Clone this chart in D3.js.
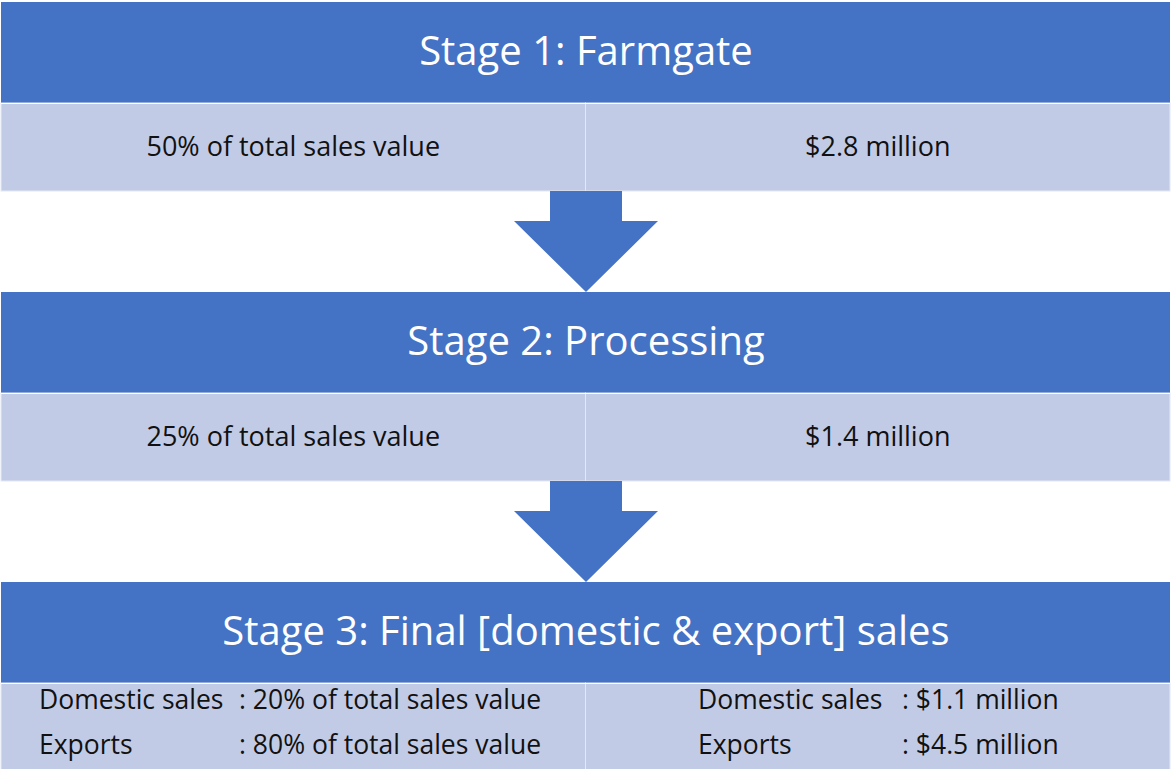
<!DOCTYPE html>
<html>
<head>
<meta charset="utf-8">
<script src="https://cdn.jsdelivr.net/npm/d3@7"></script>
<style>
    html, body { margin: 0; padding: 0; background: #ffffff; }
    svg { display: block; font-family: "Open Sans", "Noto Sans", sans-serif; }
</style>
</head>
<body>
<svg id="flowSvg" width="1172" height="769"></svg>
<script>
// stage titles and the values shown beneath each one
const stages = ["Stage 1: Farmgate", "Stage 2: Processing", "Stage 3: Final [domestic & export] sales"];
const shareLabels = [
    ["50% of total sales value"],
    ["25% of total sales value"],
    ["Domestic sales|: 20% of total sales value", "Exports|: 80% of total sales value"]
];
const valueLabels = [
    ["$2.8 million"],
    ["$1.4 million"],
    ["Domestic sales|: $1.1 million", "Exports|: $4.5 million"]
];

document.addEventListener('DOMContentLoaded', function () {
    drawFlow();
});

function drawFlow() {
    const svg = d3.select('#flowSvg');
    const width = 1172;

    const margin = { left: 1, right: 2 };
    const headerH = 101;
    const rowH = 88;

    // one band per stage, the gap between bands holds the arrow
    const yScale = d3.scaleLinear()
        .domain([0, stages.length])
        .range([2, 2 + 290 * stages.length]);
    const xScale = d3.scaleBand()
        .domain(['share', 'value'])
        .range([margin.left, width - margin.right]);

    const blue = '#4472C4';
    const light = '#C2CBE6';

    const stage = svg.selectAll('g.stage')
        .data(stages)
        .enter()
        .append('g')
        .attr('class', 'stage')
        .attr('transform', (d, i) => `translate(0, ${yScale(i)})`);

    // header bar
    stage.append('rect')
        .attr('x', margin.left)
        .attr('y', 0)
        .attr('width', width - margin.left - margin.right)
        .attr('height', headerH)
        .attr('fill', blue);

    stage.append('text')
        .attr('x', width / 2)
        .attr('y', 63)
        .attr('text-anchor', 'middle')
        .attr('fill', '#ffffff')
        .style('font-size', '40px')
        .text(d => d);

    // detail cells
    ['share', 'value'].forEach(function (col) {
        stage.append('rect')
            .attr('x', xScale(col))
            .attr('y', headerH)
            .attr('width', xScale.bandwidth())
            .attr('height', rowH)
            .attr('fill', light)
            .attr('stroke', '#e4e8f5')
            .attr('stroke-width', 1);
    });

    // white seam between header and cells
    stage.append('line')
        .attr('x1', margin.left)
        .attr('x2', width - margin.right)
        .attr('y1', headerH + 0.5)
        .attr('y2', headerH + 0.5)
        .attr('stroke', '#ffffff')
        .attr('stroke-width', 1);

    stage.each(function (d, i) {
        const g = d3.select(this);
        const cols = [shareLabels[i], valueLabels[i]];
        const keys = ['share', 'value'];
        cols.forEach(function (lines, c) {
            const x0 = xScale(keys[c]);
            if (lines.length === 1) {
                g.append('text')
                    .attr('x', x0 + xScale.bandwidth() / 2)
                    .attr('y', headerH + 53)
                    .attr('text-anchor', 'middle')
                    .attr('fill', '#111111')
                    .style('font-size', '27px')
                    .text(lines[0]);
            } else {
                // tabbed two-line layout: label, then ": value" at a tab stop
                const labelX = c === 0 ? 39 : 698;
                const tabX = c === 0 ? 239 : 902;
                lines.forEach(function (line, k) {
                    const parts = line.split('|');
                    const yy = headerH + 26 + k * 45;
                    g.append('text')
                        .attr('x', labelX)
                        .attr('y', yy)
                        .attr('fill', '#111111')
                        .style('font-size', '26.5px')
                        .text(parts[0]);
                    g.append('text')
                        .attr('x', tabX)
                        .attr('y', yy)
                        .attr('fill', '#111111')
                        .style('font-size', '26.5px')
                        .text(parts[1]);
                });
            }
        });
    });

    // down arrows in the gaps between stages
    const shaftW = 72, headW = 144, shaftL = 30;
    const cx = width / 2;
    const arrows = d3.range(stages.length - 1);
    svg.selectAll('path.arrow')
        .data(arrows)
        .enter()
        .append('path')
        .attr('class', 'arrow')
        .attr('fill', blue)
        .attr('d', function (i) {
            const top = yScale(i) + headerH + rowH;
            const tip = yScale(i + 1);
            const p = d3.path();
            p.moveTo(cx - shaftW / 2, top);
            p.lineTo(cx + shaftW / 2, top);
            p.lineTo(cx + shaftW / 2, top + shaftL);
            p.lineTo(cx + headW / 2, top + shaftL);
            p.lineTo(cx, tip);
            p.lineTo(cx - headW / 2, top + shaftL);
            p.lineTo(cx - shaftW / 2, top + shaftL);
            p.closePath();
            return p.toString();
        });
}
</script>
</body>
</html>
